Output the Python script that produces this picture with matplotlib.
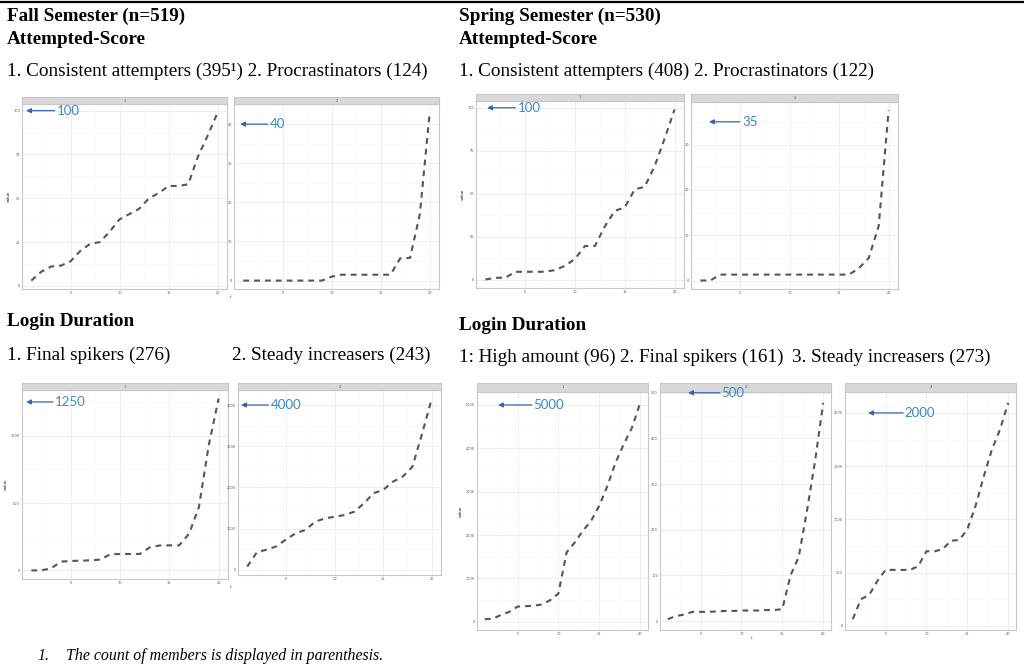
import matplotlib
matplotlib.use('Agg')
import matplotlib.pyplot as plt
from matplotlib.lines import Line2D
from matplotlib.ticker import MultipleLocator

W, H = 1024, 665

# time steps (x axis of every panel)
t = list(range(1, 21))

# Fall semester, attempted-score clusters
fall_consistent = [3, 8, 11, 11.5, 14, 20, 24, 25, 31, 38, 41, 44, 50, 53, 57, 57, 58, 74, 86, 99]
fall_procrast = [0, 0, 0, 0, 0, 0, 0, 0, 0, 1, 1.5, 1.5, 1.5, 1.5, 1.5, 1.5, 5.7, 5.8, 17, 43]
# Spring semester, attempted-score clusters
spring_consistent = [0, 1, 1, 4.5, 4.5, 4.5, 4.5, 5.5, 8, 12, 19.5, 19.5, 31, 40, 42, 52.5, 54, 66, 82, 99]
spring_procrast = [0, 0, 1.3, 1.3, 1.3, 1.3, 1.3, 1.3, 1.3, 1.3, 1.3, 1.3, 1.3, 1.3, 1.3, 1.3, 2.7, 5, 12, 37.5]
# Fall semester, login duration clusters
fall_final = [0, 0, 15, 65, 70, 72, 75, 80, 120, 122, 122, 122, 170, 185, 186, 186, 272, 470, 930, 1275]
fall_steady = [80, 430, 490, 570, 740, 890, 970, 1170, 1250, 1290, 1330, 1410, 1610, 1860, 1940, 2140,
               2260, 2500, 3300, 4160]
# Spring semester, login duration clusters
spring_high = [60, 70, 160, 230, 350, 360, 370, 400, 500, 650, 1600, 1830, 2100, 2330, 2680, 3140,
               3680, 4100, 4480, 5050]
spring_final = [4, 11, 14, 20, 20, 20, 21, 22, 22, 23, 23, 23, 24, 24, 26, 100, 140, 240, 350, 478]
spring_steady = [62, 250, 290, 420, 525, 525, 525, 525, 560, 700, 700, 720, 800, 805, 905, 1125,
                 1400, 1655, 1845, 2095]

# label shown with the blue arrow in each panel
callouts = [100, 40, 100, 35, 1250, 4000, 5000, 500, 2000]
strip_labels = ['1', '2', '1', '2', '1', '2', '1', '2', '3']

# panel layout in pixels: (left, strip top, plot top, right, bottom), y tick step,
# arrow head / text start as axes fraction
panels = [
    (fall_consistent, (22, 97, 104, 227, 289), 25, 0.02, 0.17, True),
    (fall_procrast, (234, 97, 104, 439, 289), 10, 0.03, 0.175, False),
    (spring_consistent, (476, 94, 101, 684, 288), 25, 0.053, 0.2, True),
    (spring_procrast, (691, 94, 102, 898, 289), 10, 0.087, 0.246, False),
    (fall_final, (22, 383, 390, 228, 579), 500, 0.02, 0.16, True),
    (fall_steady, (238, 383, 390, 441, 575), 1000, 0.015, 0.16, False),
    (spring_high, (477, 383, 392, 648, 630), 1000, 0.123, 0.33, True),
    (spring_final, (660, 383, 392, 831, 630), 100, 0.164, 0.36, False),
    (spring_steady, (845, 383, 392, 1016, 630), 500, 0.135, 0.35, False),
]

fig = plt.figure(figsize=(W / 100, H / 100), dpi=100)
fig.patch.set_facecolor('white')


def box(x0, y0, x1, y1):
    return [x0 / W, 1 - y1 / H, (x1 - x0) / W, (y1 - y0) / H]


for i, (vals, (x0, ys, yp, x1, yb), step, ah, tx, ylab) in enumerate(panels):
    # facet strip first so the blue labels can sit on top of it
    st = fig.add_axes(box(x0, ys, x1, yp))
    st.set_facecolor('#d9d9d9')
    st.set_xticks([])
    st.set_yticks([])
    for s in st.spines.values():
        s.set_color('#c8c8c8')
        s.set_linewidth(0.8)
    st.text(0.5, 0.5, strip_labels[i], fontsize=2.5, color='#444444', ha='center', va='center',
            transform=st.transAxes)

    ax = fig.add_axes(box(x0, yp, x1, yb))
    ax.patch.set_alpha(0)
    ax.plot(t, vals, color='#555555', lw=1.5, linestyle=(0, (2.8, 2.4)))
    ax.margins(x=0.05, y=0.05)
    ax.xaxis.set_major_locator(MultipleLocator(5))
    ax.xaxis.set_minor_locator(MultipleLocator(2.5))
    ax.yaxis.set_major_locator(MultipleLocator(step))
    ax.yaxis.set_minor_locator(MultipleLocator(step / 2))
    ax.grid(which='major', color='#ebebeb', lw=0.6)
    ax.grid(which='minor', color='#f5f5f5', lw=0.4)
    ax.set_axisbelow(True)
    ax.tick_params(which='both', length=0, labelsize=2.5, labelcolor='#555555', pad=1.5)
    ax.tick_params(which='minor', labelleft=False, labelbottom=False)
    for s in ax.spines.values():
        s.set_color('#c8c8c8')
        s.set_linewidth(0.8)
    if ylab:
        ax.set_ylabel('value', fontsize=3, labelpad=2)

    ax.annotate('', xy=(ah, callouts[i]), xycoords=('axes fraction', 'data'),
                xytext=(tx - 0.01, callouts[i]), textcoords=('axes fraction', 'data'),
                arrowprops=dict(arrowstyle='-|>', color='#3465b0', lw=0.9,
                                mutation_scale=7, shrinkA=0, shrinkB=0), annotation_clip=False)
    ax.text(tx, callouts[i], str(callouts[i]), transform=ax.get_yaxis_transform(),
            color='#3a88cc', fontsize=9.5, family='Lato', va='center', ha='left', zorder=10)

# shared x labels under facet groups
for (x, y) in [(231, 297), (231, 587), (752, 638)]:
    fig.text(x / W, 1 - y / H, 't', fontsize=3, color='#444444', ha='center', va='center')

serif = 'Liberation Serif'


def head(x, y, s, bold=False, size=13.8):
    fig.text(x / W, 1 - y / H, s, fontsize=size, family=serif,
             fontweight='bold' if bold else 'normal', va='center', ha='left')


head(7, 16, 'Fall Semester (n=519)', bold=True)
head(7, 39, 'Attempted-Score', bold=True)
head(7, 71, '1. Consistent attempters (395\u00b9) 2. Procrastinators (124)')
head(7, 321, 'Login Duration', bold=True)
head(7, 355, '1. Final spikers (276)')
head(232, 355, '2. Steady increasers (243)')

head(459, 16, 'Spring Semester (n=530)', bold=True)
head(459, 39, 'Attempted-Score', bold=True)
head(459, 71, '1. Consistent attempters (408) 2. Procrastinators (122)')
head(459, 325, 'Login Duration', bold=True)
head(459, 357, '1: High amount (96)')
head(620, 357, '2. Final spikers (161)')
head(792, 357, '3. Steady increasers (273)')

fig.text(37 / W, 1 - 656 / H, '1.', fontsize=11.4, family=serif, style='italic', va='center')
fig.text(66 / W, 1 - 656 / H, 'The count of members is displayed in parenthesis.', fontsize=11.4,
         family=serif, style='italic', va='center')

fig.add_artist(Line2D([0, 1], [1 - 1.5 / H, 1 - 1.5 / H], color='black', lw=1.6,
                      transform=fig.transFigure))

fig.savefig('out.png', dpi=100)
